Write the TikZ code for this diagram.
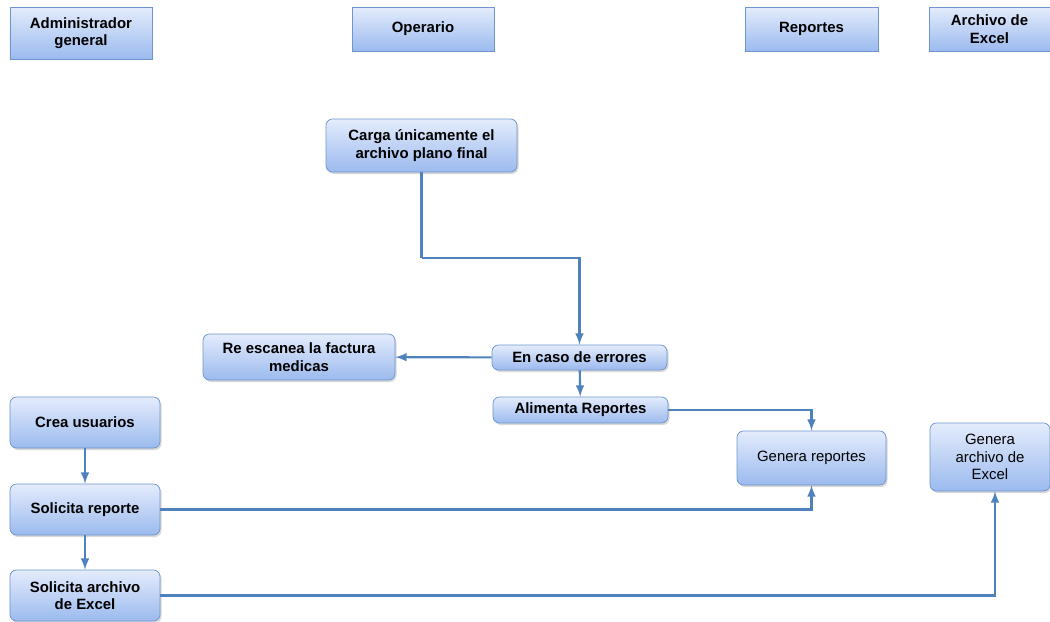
\documentclass[tikz,border=0pt]{standalone}
\usepackage{fontspec}
\setsansfont{Liberation Sans}
\usetikzlibrary{shadows}

\definecolor{linea}{RGB}{79,129,189}
\definecolor{borde}{RGB}{110,150,205}
\definecolor{claro}{RGB}{228,236,252}
\definecolor{oscuro}{RGB}{155,186,238}

\tikzstyle{actor}=[draw=borde, top color=claro, bottom color=oscuro, align=center,
  inner sep=1pt, font=\sffamily\bfseries\fontsize{8.5}{10}\selectfont]
\tikzstyle{tarea}=[actor, rounded corners=0.13cm,
  drop shadow={shadow xshift=0.03cm, shadow yshift=-0.04cm, fill=gray!60}]
\tikzstyle{arrow}=[draw=linea, line width=1.2pt, -latex]

\begin{document}
\begin{tikzpicture}
    \useasboundingbox (0,0) rectangle (21,-12.44);

    % actores
    \node[actor, minimum width=2.84cm, minimum height=1.04cm] (adm) at (1.62,-0.66) {Administrador\\general};
    \node[actor, minimum width=2.84cm, minimum height=0.88cm] (ope) at (8.46,-0.58) {Operario};
    \node[actor, minimum width=2.66cm, minimum height=0.88cm] (rep) at (16.23,-0.58) {Reportes};
    \node[actor, minimum width=2.42cm, minimum height=0.88cm] (arc) at (19.79,-0.58) {Archivo de\\Excel};

    % operario
    \node[tarea, minimum width=3.82cm, minimum height=1.06cm] (carga) at (8.43,-2.91) {Carga únicamente el\\archivo plano final};
    \node[tarea, minimum width=3.84cm, minimum height=0.92cm] (resc) at (5.98,-7.14) {Re escanea la factura\\medicas};
    \node[tarea, minimum width=3.5cm, minimum height=0.5cm] (err) at (11.59,-7.15) {En caso de errores};
    \node[tarea, minimum width=3.5cm, minimum height=0.52cm] (ali) at (11.61,-8.2) {Alimenta Reportes};

    % administrador
    \node[tarea, minimum width=3cm, minimum height=1.02cm] (crea) at (1.7,-8.45) {Crea usuarios};
    \node[tarea, minimum width=3cm, minimum height=1.02cm] (solr) at (1.7,-10.19) {Solicita reporte};
    \node[tarea, minimum width=3cm, minimum height=1.02cm] (sola) at (1.7,-11.91) {Solicita archivo\\de Excel};

    % reportes y excel
    \node[tarea, font=\sffamily\fontsize{8.5}{10}\selectfont, minimum width=2.98cm, minimum height=1.08cm] (genr) at (16.23,-9.16) {Genera reportes};
    \node[tarea, font=\sffamily\fontsize{8.5}{10}\selectfont, minimum width=2.4cm, minimum height=1.36cm] (gena) at (19.8,-9.14) {Genera\\archivo de\\Excel};

    \coordinate (c1) at (8.43,-5.16);

    \draw[arrow, -] (carga) -- (c1);
    \draw[arrow] (c1) -| (err);
    \draw[arrow] (err) -- (resc);
    \draw[arrow] (err) -- (ali);
    \draw[arrow] (ali) -| (genr);
    \draw[arrow] (crea) -- (solr);
    \draw[arrow] (solr) -- (sola);
    \draw[arrow] (solr) -| (genr);
    \draw[arrow] (sola) -| ([xshift=0.1cm]gena.south);
  \end{tikzpicture}
\end{document}
